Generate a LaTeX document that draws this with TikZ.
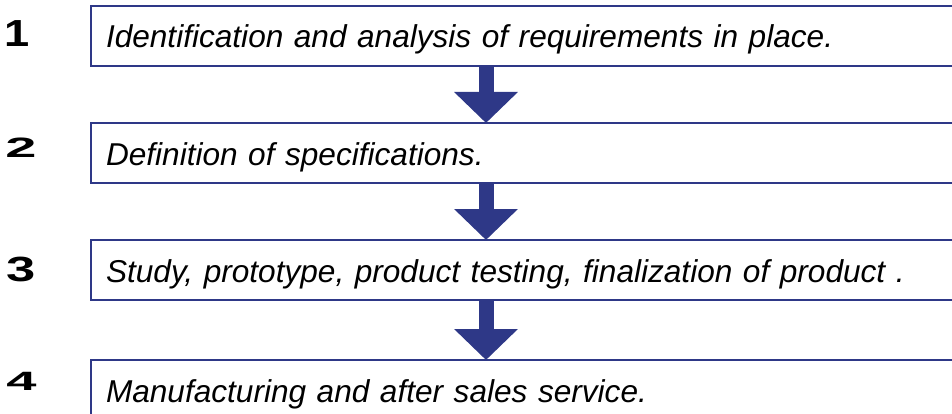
\documentclass[tikz,border=0pt]{standalone}
\usepackage{fontspec}
\setmainfont{Liberation Sans}
\usetikzlibrary{arrows.meta,positioning}
\definecolor{stepblue}{RGB}{46,56,135}
\tikzset{
  stepbox/.style={draw=stepblue,line width=2pt,outer sep=0pt,anchor=north west,
    minimum height=60pt,text width=870pt,inner xsep=15pt,align=left,
    text height=24pt,text depth=0pt,
    font=\fontsize{31.6}{34}\selectfont\itshape},
  stepnum/.style={font=\bfseries,inner sep=0pt},
}
\tikzset{bigarrow/.style={-{Triangle[width=62pt,length=31pt]},line width=15pt,stepblue}}
% digit in a wide face: size, horizontal stretch, digit
\newcommand{\wide}[3]{\fontsize{#1}{#1}\selectfont\scalebox{#2}[1]{#3}}

\begin{document}
\begin{tikzpicture}[x=1pt,y=1pt]
			\useasboundingbox (0,0) rectangle (952,-414);
			\node[stepbox] (b1) at (91,-6) {Identification and analysis of requirements in place.};
			\node[stepbox,below=57pt of b1.south west,anchor=north west] (b2) {Definition of specifications.};
			\node[stepbox,below=57pt of b2.south west,anchor=north west] (b3) {Study, prototype, product testing, finalization of product .};
			\node[stepbox,below=60pt of b3.south west,anchor=north west] (b4) {Manufacturing and after sales service.};
			\node[stepnum] (n1) at (17.5,-33.5) {\wide{37.7}{1.2}{1}};
			\node[stepnum] (n2) at (21,-148) {\wide{28}{2}{2}};
			\node[stepnum] (n3) at (21,-269.5) {\wide{35}{1.5}{3}};
			\node[stepnum] (n4) at (21.5,-381.5) {\wide{26.5}{2.05}{4}};
			\coordinate (col) at (486,0);
			\draw[bigarrow] (b1.south -| col) -- (b2.north -| col);
			\draw[bigarrow] (b2.south -| col) -- (b3.north -| col);
			\draw[bigarrow] (b3.south -| col) -- (b4.north -| col);
		\end{tikzpicture}
\end{document}
